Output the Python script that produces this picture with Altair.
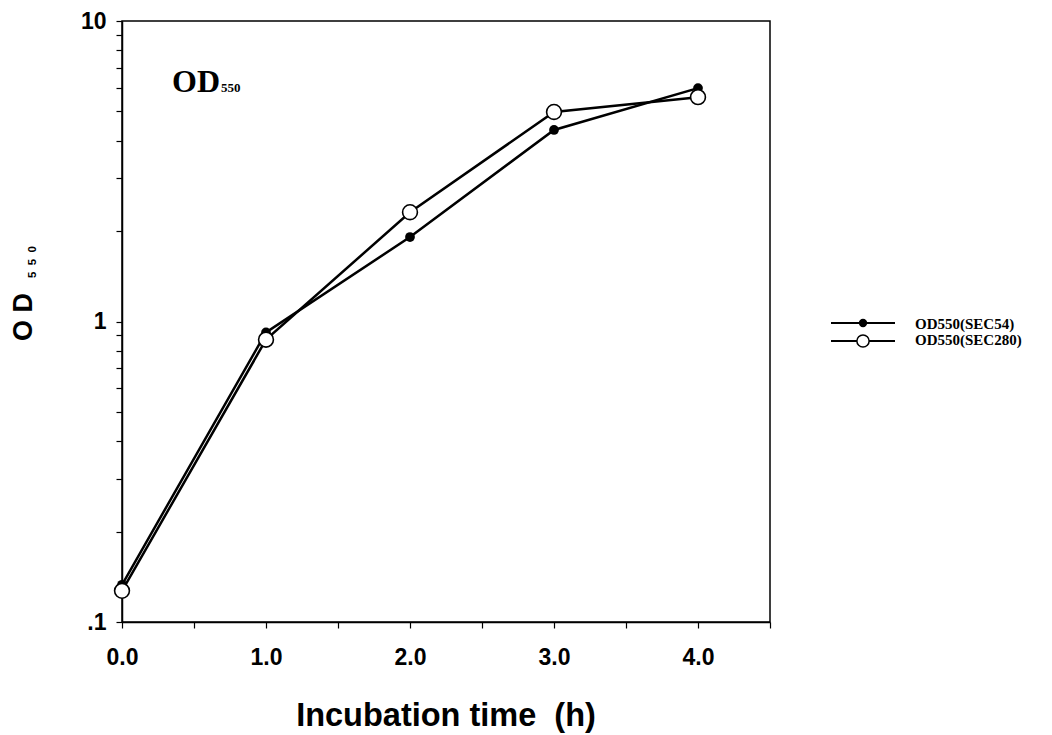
import altair as alt
import pandas as pd

# ---- data ----
time_h = [0.0, 1.0, 2.0, 3.0, 4.0]
od_sec54 = [0.133, 0.92, 1.91, 4.34, 5.98]
od_sec280 = [0.127, 0.87, 2.31, 4.98, 5.58]
series_names = ["OD550(SEC54)", "OD550(SEC280)"]

x_ticks = [0.0, 0.5, 1.0, 1.5, 2.0, 2.5, 3.0, 3.5, 4.0, 4.5]
y_ticks = [0.1, 0.2, 0.3, 0.4, 0.5, 0.6, 0.7, 0.8, 0.9,
           1, 2, 3, 4, 5, 6, 7, 8, 9, 10]

x_title = "Incubation\u00a0time\u00a0\u00a0(h)"
y_title_main = "O D"
y_title_sub = "5\u00a0\u00a05\u00a0\u00a00"
inset_main = "OD"
inset_sub = "550"

df54 = pd.DataFrame({"t": time_h, "od": od_sec54})
df280 = pd.DataFrame({"t": time_h, "od": od_sec280})

W, H = 648, 601
PL, PT = 122, 21

x_enc = alt.X("t:Q",
              scale=alt.Scale(domain=[0, 4.5], nice=False, zero=False),
              axis=alt.Axis(values=x_ticks, title=None, grid=False,
                            labelExpr="datum.value % 1 == 0 ? format(datum.value, '.1f') : ''",
                            labelFont="Liberation Sans", labelFontWeight="bold",
                            labelFontSize=23, labelColor="black",
                            labelPadding=18, tickSize=6, tickColor="black",
                            domainColor="black", domainWidth=1.5, tickWidth=1.2,
                            labelFlush=False, labelOverlap=False))
y_enc = alt.Y("od:Q",
              scale=alt.Scale(type="log", domain=[0.1, 10], nice=False),
              axis=alt.Axis(values=y_ticks, title=None, grid=False,
                            labelExpr="datum.value == 0.1 ? '.1' : (datum.value == 1 ? '1' : (datum.value == 10 ? '10' : ''))",
                            labelFont="Liberation Sans", labelFontWeight="bold",
                            labelFontSize=23, labelColor="black",
                            labelPadding=10, tickSize=6, tickColor="black",
                            domainColor="black", domainWidth=1.5, tickWidth=1.2,
                            labelOverlap=False, labelFlush=False))

line54 = alt.Chart(df54).mark_line(color="black", strokeWidth=2.5).encode(x=x_enc, y=y_enc)
pts54 = alt.Chart(df54).mark_point(shape="circle", filled=True, color="black",
                                   size=95, opacity=1).encode(x=x_enc, y=y_enc)
line280 = alt.Chart(df280).mark_line(color="black", strokeWidth=2.5).encode(x=x_enc, y=y_enc)
pts280 = alt.Chart(df280).mark_point(shape="circle", filled=True, fill="white",
                                     stroke="black", strokeWidth=1.6, size=220,
                                     opacity=1).encode(x=x_enc, y=y_enc)

one = pd.DataFrame({"k": [0]})


def txt(s, x, y, size, font="Liberation Sans", weight="bold", angle=0,
        align="center", baseline="middle"):
    return alt.Chart(one).mark_text(text=s, font=font, fontWeight=weight,
                                    fontSize=size, angle=angle, align=align,
                                    baseline=baseline, color="black").encode(
        x=alt.value(x), y=alt.value(y))


# axis titles
t_x = txt(x_title, 446 - PL, 726 - PT, 32.5, baseline="alphabetic")
t_y1 = txt(y_title_main, 24 - PL, 317 - PT, 27, angle=270)
t_y2 = txt(y_title_sub, 33 - PL, 262 - PT, 11.5, angle=270)

# inset label
t_in1 = txt(inset_main, 172 - PL, 92 - PT, 32, font="Liberation Serif",
            align="left", baseline="alphabetic")
t_in2 = txt(inset_sub, 221 - PL, 92 - PT, 13, font="Liberation Serif",
            align="left", baseline="alphabetic")

# legend
def leg_line(y):
    return alt.Chart(one).mark_rule(color="black", strokeWidth=2).encode(
        x=alt.value(831 - PL), x2=alt.value(895 - PL), y=alt.value(y - PT))

leg = [
    leg_line(323),
    alt.Chart(one).mark_point(shape="circle", filled=True, color="black", size=70,
                              opacity=1).encode(x=alt.value(863 - PL), y=alt.value(323 - PT)),
    txt(series_names[0], 915 - PL, 329 - PT, 15, font="Liberation Serif",
        align="left", baseline="alphabetic"),
    leg_line(341),
    alt.Chart(one).mark_point(shape="circle", filled=True, fill="white", stroke="black",
                              strokeWidth=1.5, size=150, opacity=1).encode(
        x=alt.value(863 - PL), y=alt.value(341 - PT)),
    txt(series_names[1], 915 - PL, 345 - PT, 15, font="Liberation Serif",
        align="left", baseline="alphabetic"),
]

chart = alt.layer(line54, pts54, line280, pts280, t_x, t_y1, t_y2, t_in1, t_in2, *leg).properties(
    width=W, height=H,
    autosize=alt.AutoSizeParams(type="none"),
    padding={"left": PL, "top": PT, "right": 1052 - PL - W, "bottom": 735 - PT - H},
    background="white",
).configure_view(stroke="black", strokeWidth=1.5)

chart.save("out.html", embed_options={"renderer": "svg", "actions": False})
